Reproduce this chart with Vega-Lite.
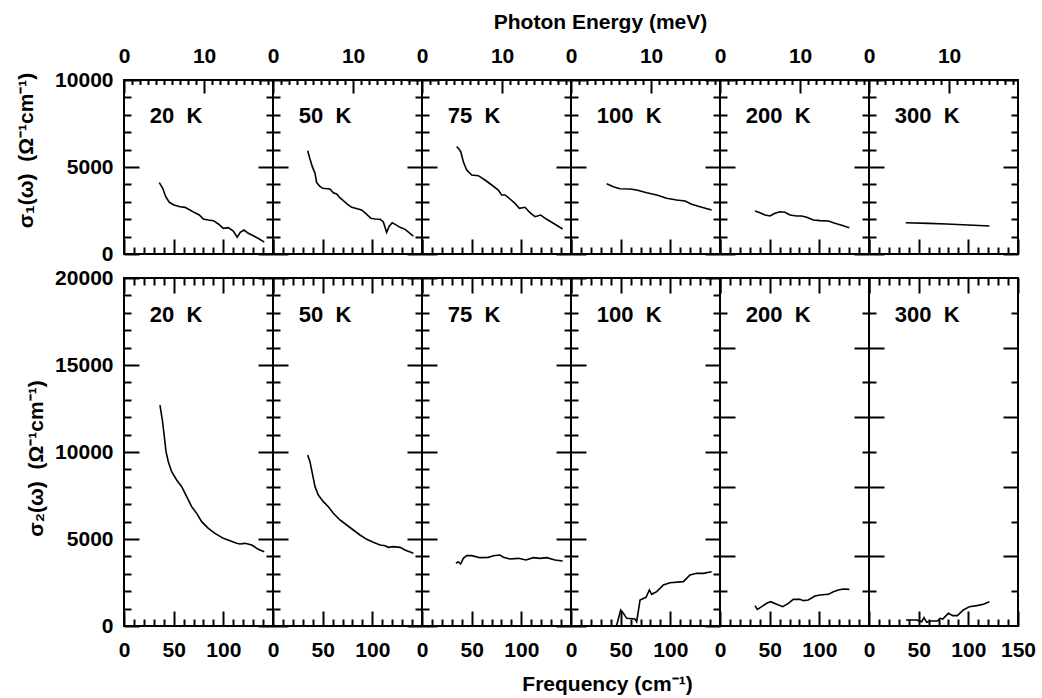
{
"$schema":"https://vega.github.io/schema/vega-lite/v6.json",
"padding":{"left":14,"top":10,"right":5,"bottom":5},
"background":"white",
"config":{"view":{"stroke":"black","strokeWidth":2},
 "font":"Liberation Sans",
 "axis":{"domain":false,"grid":false,"tickColor":"black","tickWidth":2,"labelFont":"Liberation Sans","labelFontWeight":"bold","labelFontSize":21,"labelColor":"black","titleFont":"Liberation Sans","titleFontSize":21,"titleFontWeight":"bold","titleColor":"black","labelFlush":false,"labelOverlap":false,"labelBound":false}},
"datasets":{
"d1":[
{"t":20,"f":35.5,"v":4098},{"t":20,"f":39,"v":3776},{"t":20,"f":42,"v":3293},{"t":20,"f":45.6,"v":2971},{"t":20,"f":50.3,"v":2816},{"t":20,"f":56.4,"v":2720},{"t":20,"f":61.4,"v":2682},{"t":20,"f":66.4,"v":2529},{"t":20,"f":70.5,"v":2395},{"t":20,"f":75.8,"v":2241},{"t":20,"f":79.8,"v":2011},{"t":20,"f":84.9,"v":1954},{"t":20,"f":89.9,"v":1916},{"t":20,"f":95,"v":1724},{"t":20,"f":100,"v":1475},{"t":20,"f":105,"v":1513},{"t":20,"f":110,"v":1322},{"t":20,"f":114,"v":960},{"t":20,"f":117,"v":1245},{"t":20,"f":120.8,"v":1379},{"t":20,"f":125.1,"v":1188},{"t":20,"f":130.2,"v":1053},{"t":20,"f":136.2,"v":862},{"t":20,"f":141.2,"v":680},
{"t":50,"f":34.9,"v":5937},{"t":50,"f":37.3,"v":5442},{"t":50,"f":39.6,"v":5019},{"t":50,"f":42.3,"v":4638},{"t":50,"f":44,"v":4098},{"t":50,"f":47,"v":3900},{"t":50,"f":50,"v":3776},{"t":50,"f":57.4,"v":3736},{"t":50,"f":60.7,"v":3523},{"t":50,"f":64.1,"v":3448},{"t":50,"f":67,"v":3250},{"t":50,"f":70.8,"v":3064},{"t":50,"f":75,"v":2850},{"t":50,"f":79.2,"v":2684},{"t":50,"f":83,"v":2626},{"t":50,"f":89.2,"v":2529},{"t":50,"f":93,"v":2350},{"t":50,"f":98.6,"v":2052},{"t":50,"f":103,"v":2011},{"t":50,"f":107.7,"v":1994},{"t":50,"f":111,"v":1856},{"t":50,"f":114.4,"v":1245},{"t":50,"f":117,"v":1600},{"t":50,"f":120,"v":1799},{"t":50,"f":123,"v":1700},{"t":50,"f":127.9,"v":1533},{"t":50,"f":133,"v":1418},{"t":50,"f":137,"v":1226},{"t":50,"f":141.3,"v":1034},
{"t":75,"f":34.9,"v":6167},{"t":75,"f":37,"v":6050},{"t":75,"f":39,"v":5879},{"t":75,"f":41.6,"v":5305},{"t":75,"f":45,"v":4828},{"t":75,"f":50,"v":4540},{"t":75,"f":56.7,"v":4500},{"t":75,"f":63.4,"v":4253},{"t":75,"f":70.2,"v":3966},{"t":75,"f":76.8,"v":3678},{"t":75,"f":80.2,"v":3391},{"t":75,"f":83.6,"v":3391},{"t":75,"f":88.6,"v":3161},{"t":75,"f":93.6,"v":2914},{"t":75,"f":98,"v":2626},{"t":75,"f":103.7,"v":2684},{"t":75,"f":108.7,"v":2374},{"t":75,"f":113.8,"v":2144},{"t":75,"f":119.5,"v":2241},{"t":75,"f":125.5,"v":1994},{"t":75,"f":132.2,"v":1764},{"t":75,"f":141.6,"v":1437},
{"t":100,"f":35.9,"v":4040},{"t":100,"f":42.6,"v":3868},{"t":100,"f":49.3,"v":3753},{"t":100,"f":59.4,"v":3736},{"t":100,"f":66.1,"v":3678},{"t":100,"f":76.2,"v":3523},{"t":100,"f":86.3,"v":3391},{"t":100,"f":96.3,"v":3201},{"t":100,"f":106.4,"v":3103},{"t":100,"f":114.8,"v":3046},{"t":100,"f":121.5,"v":2856},{"t":100,"f":129.9,"v":2720},{"t":100,"f":141.6,"v":2529},
{"t":200,"f":35.2,"v":2471},{"t":200,"f":40.3,"v":2374},{"t":200,"f":45.3,"v":2241},{"t":200,"f":50.3,"v":2184},{"t":200,"f":55.4,"v":2339},{"t":200,"f":60.4,"v":2431},{"t":200,"f":65.4,"v":2397},{"t":200,"f":70.5,"v":2241},{"t":200,"f":77.2,"v":2184},{"t":200,"f":82.2,"v":2184},{"t":200,"f":87.3,"v":2109},{"t":200,"f":94,"v":1954},{"t":200,"f":100.7,"v":1916},{"t":200,"f":109.1,"v":1897},{"t":200,"f":114.1,"v":1799},{"t":200,"f":119.1,"v":1705},{"t":200,"f":124.2,"v":1628},{"t":200,"f":127,"v":1560},{"t":200,"f":130.2,"v":1513},
{"t":300,"f":37,"v":1799},{"t":300,"f":60,"v":1760},{"t":300,"f":78.2,"v":1724},{"t":300,"f":100,"v":1670},{"t":300,"f":121.2,"v":1609}
],
"d2":[
{"t":20,"f":36.2,"v":12701},{"t":20,"f":38.6,"v":11839},{"t":20,"f":40.6,"v":10881},{"t":20,"f":42.3,"v":10019},{"t":20,"f":44.6,"v":9444},{"t":20,"f":48,"v":8870},{"t":20,"f":53,"v":8391},{"t":20,"f":58.1,"v":8008},{"t":20,"f":63.1,"v":7433},{"t":20,"f":68.1,"v":6858},{"t":20,"f":73.2,"v":6475},{"t":20,"f":78.2,"v":5996},{"t":20,"f":84.9,"v":5613},{"t":20,"f":91.6,"v":5326},{"t":20,"f":100,"v":5038},{"t":20,"f":106.7,"v":4904},{"t":20,"f":113.4,"v":4751},{"t":20,"f":116.8,"v":4713},{"t":20,"f":121.8,"v":4751},{"t":20,"f":128.6,"v":4655},{"t":20,"f":135.2,"v":4406},{"t":20,"f":141.2,"v":4272},
{"t":50,"f":34.9,"v":9828},{"t":50,"f":37.2,"v":9444},{"t":50,"f":39.6,"v":8774},{"t":50,"f":42.3,"v":8008},{"t":50,"f":45.6,"v":7529},{"t":50,"f":50.7,"v":7146},{"t":50,"f":55.7,"v":6858},{"t":50,"f":60.7,"v":6475},{"t":50,"f":67.4,"v":6092},{"t":50,"f":74.2,"v":5805},{"t":50,"f":80.8,"v":5517},{"t":50,"f":87.6,"v":5230},{"t":50,"f":94.3,"v":4981},{"t":50,"f":101,"v":4808},{"t":50,"f":107.7,"v":4655},{"t":50,"f":112.8,"v":4617},{"t":50,"f":116.1,"v":4521},{"t":50,"f":121.1,"v":4559},{"t":50,"f":127.9,"v":4521},{"t":50,"f":132.9,"v":4368},{"t":50,"f":141.3,"v":4176},
{"t":75,"f":34.2,"v":3602},{"t":75,"f":36.5,"v":3697},{"t":75,"f":38.9,"v":3563},{"t":75,"f":41.6,"v":3889},{"t":75,"f":45,"v":4042},{"t":75,"f":50,"v":4042},{"t":75,"f":58.4,"v":3927},{"t":75,"f":66.8,"v":3946},{"t":75,"f":71.8,"v":4042},{"t":75,"f":78.5,"v":4080},{"t":75,"f":81.9,"v":3946},{"t":75,"f":88.6,"v":3851},{"t":75,"f":97,"v":3889},{"t":75,"f":104.7,"v":3793},{"t":75,"f":112.1,"v":3927},{"t":75,"f":118.8,"v":3889},{"t":75,"f":125.5,"v":3927},{"t":75,"f":133.9,"v":3793},{"t":75,"f":141.6,"v":3736},
{"t":100,"f":36,"v":-100},{"t":100,"f":45.6,"v":-40},{"t":100,"f":50,"v":920},{"t":100,"f":52.7,"v":728},{"t":100,"f":56.1,"v":441},{"t":100,"f":64.4,"v":402},{"t":100,"f":66.1,"v":249},{"t":100,"f":69.5,"v":1494},{"t":100,"f":75.5,"v":1648},{"t":100,"f":78.9,"v":2069},{"t":100,"f":81.2,"v":1820},{"t":100,"f":86.3,"v":1973},{"t":100,"f":93,"v":2356},{"t":100,"f":99.7,"v":2490},{"t":100,"f":113.1,"v":2548},{"t":100,"f":119.8,"v":2931},{"t":100,"f":126.5,"v":3027},{"t":100,"f":133.2,"v":3027},{"t":100,"f":141.6,"v":3123},
{"t":200,"f":35.2,"v":1169},{"t":200,"f":37.6,"v":958},{"t":200,"f":42,"v":1111},{"t":200,"f":47,"v":1303},{"t":200,"f":51,"v":1399},{"t":200,"f":57.1,"v":1245},{"t":200,"f":63.1,"v":1111},{"t":200,"f":68.8,"v":1303},{"t":200,"f":73.8,"v":1533},{"t":200,"f":80.5,"v":1533},{"t":200,"f":83.9,"v":1456},{"t":200,"f":88.9,"v":1494},{"t":200,"f":95.6,"v":1724},{"t":200,"f":100.7,"v":1782},{"t":200,"f":109.1,"v":1820},{"t":200,"f":114.1,"v":1973},{"t":200,"f":119.1,"v":2069},{"t":200,"f":124.2,"v":2126},{"t":200,"f":130.2,"v":2107},
{"t":300,"f":37.2,"v":345},{"t":300,"f":48,"v":345},{"t":300,"f":53,"v":249},{"t":300,"f":55.4,"v":479},{"t":300,"f":58.1,"v":211},{"t":300,"f":61.4,"v":287},{"t":300,"f":68.8,"v":287},{"t":300,"f":71.5,"v":441},{"t":300,"f":74.2,"v":402},{"t":300,"f":79.9,"v":728},{"t":300,"f":84.3,"v":594},{"t":300,"f":88.9,"v":594},{"t":300,"f":95,"v":920},{"t":300,"f":101.1,"v":1111},{"t":300,"f":108.5,"v":1169},{"t":300,"f":115.2,"v":1245},{"t":300,"f":121.2,"v":1399}
]},
"columns":6,
"spacing":{"row":24,"column":0},
"bounds":"flush",
"align":"each",
"concat":[
{"width":149,"height":174,"data":{"name":"d1"},"transform":[{"filter":"datum.t == 20"}],
 "layer":[
  {"mark":{"type":"line","color":"black","strokeWidth":1.6,"clip":true},"encoding":{
   "x":{"field":"f","type":"quantitative","scale":{"domain":[0,150],"nice":false},"axis":{"orient":"bottom","values":[0,50,100,150],"tickSize":-15,"labels":false,"title":null}},
   "y":{"field":"v","type":"quantitative","scale":{"domain":[0,10000],"nice":false},"axis":{"orient":"left","values":[0,5000,10000],"tickSize":-15,"labelPadding":26,"format":"d","title":"σ₁(ω)\u00a0\u00a0(Ω⁻¹cm⁻¹)","titleX":-92,"titleY":70,"titleAngle":270,"titleAlign":"center","titleBaseline":"alphabetic"}}}},
  {"mark":{"type":"line","strokeOpacity":0},"encoding":{
   "x":{"field":"f","type":"quantitative","scale":{"domain":[0,150],"nice":false},"axis":{"orient":"bottom","values":[10,20,30,40,60,70,80,90,110,120,130,140],"tickSize":-7,"labels":false,"title":null}},
   "y":{"field":"v","type":"quantitative","scale":{"domain":[0,10000],"nice":false},"axis":{"orient":"left","values":[1000,2000,3000,4000,6000,7000,8000,9000],"tickSize":-7,"labels":false,"title":null}}}},
  {"mark":{"type":"line","strokeOpacity":0},"encoding":{
   "x":{"field":"f","type":"quantitative","scale":{"domain":[0,150],"nice":false},"axis":{"orient":"top","values":[0,80.655],"tickSize":-13,"labelPadding":27,"labelExpr":"datum.value < 1 ? '0' : '10'","title":null}},
   "y":{"field":"v","type":"quantitative","scale":{"domain":[0,10000],"nice":false},"axis":{"orient":"right","values":[0,5000,10000],"tickSize":-15,"labels":false,"title":null}}}},
  {"mark":{"type":"line","strokeOpacity":0},"encoding":{
   "x":{"field":"f","type":"quantitative","scale":{"domain":[0,150],"nice":false},"axis":{"orient":"top","values":[8.0655,16.131,24.1965,32.262,40.3275,48.393,56.4585,64.524,72.5895,88.7205,96.786,104.8515,112.917,120.9825,129.048,137.1135,145.179],"tickSize":-4.5,"labels":false,"title":null}},
   "y":{"field":"v","type":"quantitative","scale":{"domain":[0,10000],"nice":false},"axis":{"orient":"right","values":[1000,2000,3000,4000,6000,7000,8000,9000],"tickSize":-7,"labels":false,"title":null}}}},
  {"data":{"values":[{"label":"20\u00a0\u00a0K"}]},"mark":{"type":"text","align":"left","baseline":"middle","fontSize":22,"font":"Liberation Sans","fontWeight":"bold","color":"black"},"encoding":{
   "x":{"datum":26,"type":"quantitative","scale":{"domain":[0,150],"nice":false},"axis":null},
   "y":{"datum":7950,"type":"quantitative","scale":{"domain":[0,10000],"nice":false},"axis":null},
   "text":{"field":"label"}}}
 ],"resolve":{"axis":{"x":"independent","y":"independent"}}},
{"width":149,"height":174,"data":{"name":"d1"},"transform":[{"filter":"datum.t == 50"}],
 "layer":[
  {"mark":{"type":"line","color":"black","strokeWidth":1.6,"clip":true},"encoding":{
   "x":{"field":"f","type":"quantitative","scale":{"domain":[0,150],"nice":false},"axis":{"orient":"bottom","values":[0,50,100,150],"tickSize":-15,"labels":false,"title":null}},
   "y":{"field":"v","type":"quantitative","scale":{"domain":[0,10000],"nice":false},"axis":{"orient":"left","values":[0,5000,10000],"tickSize":-15,"labels":false,"title":null}}}},
  {"mark":{"type":"line","strokeOpacity":0},"encoding":{
   "x":{"field":"f","type":"quantitative","scale":{"domain":[0,150],"nice":false},"axis":{"orient":"bottom","values":[10,20,30,40,60,70,80,90,110,120,130,140],"tickSize":-7,"labels":false,"title":null}},
   "y":{"field":"v","type":"quantitative","scale":{"domain":[0,10000],"nice":false},"axis":{"orient":"left","values":[1000,2000,3000,4000,6000,7000,8000,9000],"tickSize":-7,"labels":false,"title":null}}}},
  {"mark":{"type":"line","strokeOpacity":0},"encoding":{
   "x":{"field":"f","type":"quantitative","scale":{"domain":[0,150],"nice":false},"axis":{"orient":"top","values":[0,80.655],"tickSize":-13,"labelPadding":27,"labelExpr":"datum.value < 1 ? '0' : '10'","title":null}},
   "y":{"field":"v","type":"quantitative","scale":{"domain":[0,10000],"nice":false},"axis":{"orient":"right","values":[0,5000,10000],"tickSize":-15,"labels":false,"title":null}}}},
  {"mark":{"type":"line","strokeOpacity":0},"encoding":{
   "x":{"field":"f","type":"quantitative","scale":{"domain":[0,150],"nice":false},"axis":{"orient":"top","values":[8.0655,16.131,24.1965,32.262,40.3275,48.393,56.4585,64.524,72.5895,88.7205,96.786,104.8515,112.917,120.9825,129.048,137.1135,145.179],"tickSize":-4.5,"labels":false,"title":null}},
   "y":{"field":"v","type":"quantitative","scale":{"domain":[0,10000],"nice":false},"axis":{"orient":"right","values":[1000,2000,3000,4000,6000,7000,8000,9000],"tickSize":-7,"labels":false,"title":null}}}},
  {"data":{"values":[{"label":"50\u00a0\u00a0K"}]},"mark":{"type":"text","align":"left","baseline":"middle","fontSize":22,"font":"Liberation Sans","fontWeight":"bold","color":"black"},"encoding":{
   "x":{"datum":26,"type":"quantitative","scale":{"domain":[0,150],"nice":false},"axis":null},
   "y":{"datum":7950,"type":"quantitative","scale":{"domain":[0,10000],"nice":false},"axis":null},
   "text":{"field":"label"}}}
 ],"resolve":{"axis":{"x":"independent","y":"independent"}}},
{"width":149,"height":174,"data":{"name":"d1"},"transform":[{"filter":"datum.t == 75"}],
 "layer":[
  {"mark":{"type":"line","color":"black","strokeWidth":1.6,"clip":true},"encoding":{
   "x":{"field":"f","type":"quantitative","scale":{"domain":[0,150],"nice":false},"axis":{"orient":"bottom","values":[0,50,100,150],"tickSize":-15,"labels":false,"title":null}},
   "y":{"field":"v","type":"quantitative","scale":{"domain":[0,10000],"nice":false},"axis":{"orient":"left","values":[0,5000,10000],"tickSize":-15,"labels":false,"title":null}}}},
  {"mark":{"type":"line","strokeOpacity":0},"encoding":{
   "x":{"field":"f","type":"quantitative","scale":{"domain":[0,150],"nice":false},"axis":{"orient":"bottom","values":[10,20,30,40,60,70,80,90,110,120,130,140],"tickSize":-7,"labels":false,"title":null}},
   "y":{"field":"v","type":"quantitative","scale":{"domain":[0,10000],"nice":false},"axis":{"orient":"left","values":[1000,2000,3000,4000,6000,7000,8000,9000],"tickSize":-7,"labels":false,"title":null}}}},
  {"mark":{"type":"line","strokeOpacity":0},"encoding":{
   "x":{"field":"f","type":"quantitative","scale":{"domain":[0,150],"nice":false},"axis":{"orient":"top","values":[0,80.655],"tickSize":-13,"labelPadding":27,"labelExpr":"datum.value < 1 ? '0' : '10'","title":null}},
   "y":{"field":"v","type":"quantitative","scale":{"domain":[0,10000],"nice":false},"axis":{"orient":"right","values":[0,5000,10000],"tickSize":-15,"labels":false,"title":null}}}},
  {"mark":{"type":"line","strokeOpacity":0},"encoding":{
   "x":{"field":"f","type":"quantitative","scale":{"domain":[0,150],"nice":false},"axis":{"orient":"top","values":[8.0655,16.131,24.1965,32.262,40.3275,48.393,56.4585,64.524,72.5895,88.7205,96.786,104.8515,112.917,120.9825,129.048,137.1135,145.179],"tickSize":-4.5,"labels":false,"title":null}},
   "y":{"field":"v","type":"quantitative","scale":{"domain":[0,10000],"nice":false},"axis":{"orient":"right","values":[1000,2000,3000,4000,6000,7000,8000,9000],"tickSize":-7,"labels":false,"title":null}}}},
  {"data":{"values":[{"label":"75\u00a0\u00a0K"}]},"mark":{"type":"text","align":"left","baseline":"middle","fontSize":22,"font":"Liberation Sans","fontWeight":"bold","color":"black"},"encoding":{
   "x":{"datum":26,"type":"quantitative","scale":{"domain":[0,150],"nice":false},"axis":null},
   "y":{"datum":7950,"type":"quantitative","scale":{"domain":[0,10000],"nice":false},"axis":null},
   "text":{"field":"label"}}}
 ],"resolve":{"axis":{"x":"independent","y":"independent"}}},
{"width":149,"height":174,"data":{"name":"d1"},"transform":[{"filter":"datum.t == 100"}],
 "layer":[
  {"mark":{"type":"line","color":"black","strokeWidth":1.6,"clip":true},"encoding":{
   "x":{"field":"f","type":"quantitative","scale":{"domain":[0,150],"nice":false},"axis":{"orient":"bottom","values":[0,50,100,150],"tickSize":-15,"labels":false,"title":null}},
   "y":{"field":"v","type":"quantitative","scale":{"domain":[0,10000],"nice":false},"axis":{"orient":"left","values":[0,5000,10000],"tickSize":-15,"labels":false,"title":null}}}},
  {"mark":{"type":"line","strokeOpacity":0},"encoding":{
   "x":{"field":"f","type":"quantitative","scale":{"domain":[0,150],"nice":false},"axis":{"orient":"bottom","values":[10,20,30,40,60,70,80,90,110,120,130,140],"tickSize":-7,"labels":false,"title":null}},
   "y":{"field":"v","type":"quantitative","scale":{"domain":[0,10000],"nice":false},"axis":{"orient":"left","values":[1000,2000,3000,4000,6000,7000,8000,9000],"tickSize":-7,"labels":false,"title":null}}}},
  {"mark":{"type":"line","strokeOpacity":0},"encoding":{
   "x":{"field":"f","type":"quantitative","scale":{"domain":[0,150],"nice":false},"axis":{"orient":"top","values":[0,80.655],"tickSize":-13,"labelPadding":27,"labelExpr":"datum.value < 1 ? '0' : '10'","title":"Photon Energy (meV)","titleX":29,"titleY":-52,"titleAlign":"center","titleBaseline":"alphabetic","titleAngle":0}},
   "y":{"field":"v","type":"quantitative","scale":{"domain":[0,10000],"nice":false},"axis":{"orient":"right","values":[0,5000,10000],"tickSize":-15,"labels":false,"title":null}}}},
  {"mark":{"type":"line","strokeOpacity":0},"encoding":{
   "x":{"field":"f","type":"quantitative","scale":{"domain":[0,150],"nice":false},"axis":{"orient":"top","values":[8.0655,16.131,24.1965,32.262,40.3275,48.393,56.4585,64.524,72.5895,88.7205,96.786,104.8515,112.917,120.9825,129.048,137.1135,145.179],"tickSize":-4.5,"labels":false,"title":null}},
   "y":{"field":"v","type":"quantitative","scale":{"domain":[0,10000],"nice":false},"axis":{"orient":"right","values":[1000,2000,3000,4000,6000,7000,8000,9000],"tickSize":-7,"labels":false,"title":null}}}},
  {"data":{"values":[{"label":"100\u00a0\u00a0K"}]},"mark":{"type":"text","align":"left","baseline":"middle","fontSize":22,"font":"Liberation Sans","fontWeight":"bold","color":"black"},"encoding":{
   "x":{"datum":26,"type":"quantitative","scale":{"domain":[0,150],"nice":false},"axis":null},
   "y":{"datum":7950,"type":"quantitative","scale":{"domain":[0,10000],"nice":false},"axis":null},
   "text":{"field":"label"}}}
 ],"resolve":{"axis":{"x":"independent","y":"independent"}}},
{"width":149,"height":174,"data":{"name":"d1"},"transform":[{"filter":"datum.t == 200"}],
 "layer":[
  {"mark":{"type":"line","color":"black","strokeWidth":1.6,"clip":true},"encoding":{
   "x":{"field":"f","type":"quantitative","scale":{"domain":[0,150],"nice":false},"axis":{"orient":"bottom","values":[0,50,100,150],"tickSize":-15,"labels":false,"title":null}},
   "y":{"field":"v","type":"quantitative","scale":{"domain":[0,10000],"nice":false},"axis":{"orient":"left","values":[0,5000,10000],"tickSize":-15,"labels":false,"title":null}}}},
  {"mark":{"type":"line","strokeOpacity":0},"encoding":{
   "x":{"field":"f","type":"quantitative","scale":{"domain":[0,150],"nice":false},"axis":{"orient":"bottom","values":[10,20,30,40,60,70,80,90,110,120,130,140],"tickSize":-7,"labels":false,"title":null}},
   "y":{"field":"v","type":"quantitative","scale":{"domain":[0,10000],"nice":false},"axis":{"orient":"left","values":[1000,2000,3000,4000,6000,7000,8000,9000],"tickSize":-7,"labels":false,"title":null}}}},
  {"mark":{"type":"line","strokeOpacity":0},"encoding":{
   "x":{"field":"f","type":"quantitative","scale":{"domain":[0,150],"nice":false},"axis":{"orient":"top","values":[0,80.655],"tickSize":-13,"labelPadding":27,"labelExpr":"datum.value < 1 ? '0' : '10'","title":null}},
   "y":{"field":"v","type":"quantitative","scale":{"domain":[0,10000],"nice":false},"axis":{"orient":"right","values":[0,5000,10000],"tickSize":-15,"labels":false,"title":null}}}},
  {"mark":{"type":"line","strokeOpacity":0},"encoding":{
   "x":{"field":"f","type":"quantitative","scale":{"domain":[0,150],"nice":false},"axis":{"orient":"top","values":[8.0655,16.131,24.1965,32.262,40.3275,48.393,56.4585,64.524,72.5895,88.7205,96.786,104.8515,112.917,120.9825,129.048,137.1135,145.179],"tickSize":-4.5,"labels":false,"title":null}},
   "y":{"field":"v","type":"quantitative","scale":{"domain":[0,10000],"nice":false},"axis":{"orient":"right","values":[1000,2000,3000,4000,6000,7000,8000,9000],"tickSize":-7,"labels":false,"title":null}}}},
  {"data":{"values":[{"label":"200\u00a0\u00a0K"}]},"mark":{"type":"text","align":"left","baseline":"middle","fontSize":22,"font":"Liberation Sans","fontWeight":"bold","color":"black"},"encoding":{
   "x":{"datum":26,"type":"quantitative","scale":{"domain":[0,150],"nice":false},"axis":null},
   "y":{"datum":7950,"type":"quantitative","scale":{"domain":[0,10000],"nice":false},"axis":null},
   "text":{"field":"label"}}}
 ],"resolve":{"axis":{"x":"independent","y":"independent"}}},
{"width":149,"height":174,"data":{"name":"d1"},"transform":[{"filter":"datum.t == 300"}],
 "layer":[
  {"mark":{"type":"line","color":"black","strokeWidth":1.6,"clip":true},"encoding":{
   "x":{"field":"f","type":"quantitative","scale":{"domain":[0,150],"nice":false},"axis":{"orient":"bottom","values":[0,50,100,150],"tickSize":-15,"labels":false,"title":null}},
   "y":{"field":"v","type":"quantitative","scale":{"domain":[0,10000],"nice":false},"axis":{"orient":"left","values":[0,5000,10000],"tickSize":-15,"labels":false,"title":null}}}},
  {"mark":{"type":"line","strokeOpacity":0},"encoding":{
   "x":{"field":"f","type":"quantitative","scale":{"domain":[0,150],"nice":false},"axis":{"orient":"bottom","values":[10,20,30,40,60,70,80,90,110,120,130,140],"tickSize":-7,"labels":false,"title":null}},
   "y":{"field":"v","type":"quantitative","scale":{"domain":[0,10000],"nice":false},"axis":{"orient":"left","values":[1000,2000,3000,4000,6000,7000,8000,9000],"tickSize":-7,"labels":false,"title":null}}}},
  {"mark":{"type":"line","strokeOpacity":0},"encoding":{
   "x":{"field":"f","type":"quantitative","scale":{"domain":[0,150],"nice":false},"axis":{"orient":"top","values":[0,80.655],"tickSize":-13,"labelPadding":27,"labelExpr":"datum.value < 1 ? '0' : '10'","title":null}},
   "y":{"field":"v","type":"quantitative","scale":{"domain":[0,10000],"nice":false},"axis":{"orient":"right","values":[0,5000,10000],"tickSize":-15,"labels":false,"title":null}}}},
  {"mark":{"type":"line","strokeOpacity":0},"encoding":{
   "x":{"field":"f","type":"quantitative","scale":{"domain":[0,150],"nice":false},"axis":{"orient":"top","values":[8.0655,16.131,24.1965,32.262,40.3275,48.393,56.4585,64.524,72.5895,88.7205,96.786,104.8515,112.917,120.9825,129.048,137.1135,145.179],"tickSize":-4.5,"labels":false,"title":null}},
   "y":{"field":"v","type":"quantitative","scale":{"domain":[0,10000],"nice":false},"axis":{"orient":"right","values":[1000,2000,3000,4000,6000,7000,8000,9000],"tickSize":-7,"labels":false,"title":null}}}},
  {"data":{"values":[{"label":"300\u00a0\u00a0K"}]},"mark":{"type":"text","align":"left","baseline":"middle","fontSize":22,"font":"Liberation Sans","fontWeight":"bold","color":"black"},"encoding":{
   "x":{"datum":26,"type":"quantitative","scale":{"domain":[0,150],"nice":false},"axis":null},
   "y":{"datum":7950,"type":"quantitative","scale":{"domain":[0,10000],"nice":false},"axis":null},
   "text":{"field":"label"}}}
 ],"resolve":{"axis":{"x":"independent","y":"independent"}}},
{"width":149,"height":348,"data":{"name":"d2"},"transform":[{"filter":"datum.t == 20"}],
 "layer":[
  {"mark":{"type":"line","color":"black","strokeWidth":1.6,"clip":true},"encoding":{
   "x":{"field":"f","type":"quantitative","scale":{"domain":[0,150],"nice":false},"axis":{"orient":"bottom","values":[0,50,100],"tickSize":-15,"labelPadding":28,"title":null}},
   "y":{"field":"v","type":"quantitative","scale":{"domain":[0,20000],"nice":false},"axis":{"orient":"left","values":[0,5000,10000,15000,20000],"tickSize":-15,"labelPadding":26,"format":"d","title":"σ₂(ω)\u00a0\u00a0(Ω⁻¹cm⁻¹)","titleX":-82,"titleY":180,"titleAngle":270,"titleAlign":"center","titleBaseline":"alphabetic"}}}},
  {"mark":{"type":"line","strokeOpacity":0},"encoding":{
   "x":{"field":"f","type":"quantitative","scale":{"domain":[0,150],"nice":false},"axis":{"orient":"bottom","values":[10,20,30,40,60,70,80,90,110,120,130,140],"tickSize":-7,"labels":false,"title":null}},
   "y":{"field":"v","type":"quantitative","scale":{"domain":[0,20000],"nice":false},"axis":{"orient":"left","values":[1000,2000,3000,4000,6000,7000,8000,9000,11000,12000,13000,14000,16000,17000,18000,19000],"tickSize":-7,"labels":false,"title":null}}}},
  {"mark":{"type":"line","strokeOpacity":0},"encoding":{
   "x":{"field":"f","type":"quantitative","scale":{"domain":[0,150],"nice":false},"axis":{"orient":"top","values":[0,50,100,150],"tickSize":-15,"labels":false,"title":null}},
   "y":{"field":"v","type":"quantitative","scale":{"domain":[0,20000],"nice":false},"axis":{"orient":"right","values":[0,5000,10000,15000,20000],"tickSize":-15,"labels":false,"title":null}}}},
  {"mark":{"type":"line","strokeOpacity":0},"encoding":{
   "x":{"field":"f","type":"quantitative","scale":{"domain":[0,150],"nice":false},"axis":{"orient":"top","values":[10,20,30,40,60,70,80,90,110,120,130,140],"tickSize":-7,"labels":false,"title":null}},
   "y":{"field":"v","type":"quantitative","scale":{"domain":[0,20000],"nice":false},"axis":{"orient":"right","values":[1000,2000,3000,4000,6000,7000,8000,9000,11000,12000,13000,14000,16000,17000,18000,19000],"tickSize":-7,"labels":false,"title":null}}}},
  {"data":{"values":[{"label":"20\u00a0\u00a0K"}]},"mark":{"type":"text","align":"left","baseline":"middle","fontSize":22,"font":"Liberation Sans","fontWeight":"bold","color":"black"},"encoding":{
   "x":{"datum":26,"type":"quantitative","scale":{"domain":[0,150],"nice":false},"axis":null},
   "y":{"datum":17900,"type":"quantitative","scale":{"domain":[0,20000],"nice":false},"axis":null},
   "text":{"field":"label"}}}
 ],"resolve":{"axis":{"x":"independent","y":"independent"}}},
{"width":149,"height":348,"data":{"name":"d2"},"transform":[{"filter":"datum.t == 50"}],
 "layer":[
  {"mark":{"type":"line","color":"black","strokeWidth":1.6,"clip":true},"encoding":{
   "x":{"field":"f","type":"quantitative","scale":{"domain":[0,150],"nice":false},"axis":{"orient":"bottom","values":[0,50,100],"tickSize":-15,"labelPadding":28,"title":null}},
   "y":{"field":"v","type":"quantitative","scale":{"domain":[0,20000],"nice":false},"axis":{"orient":"left","values":[0,5000,10000,15000,20000],"tickSize":-15,"labels":false,"title":null}}}},
  {"mark":{"type":"line","strokeOpacity":0},"encoding":{
   "x":{"field":"f","type":"quantitative","scale":{"domain":[0,150],"nice":false},"axis":{"orient":"bottom","values":[10,20,30,40,60,70,80,90,110,120,130,140],"tickSize":-7,"labels":false,"title":null}},
   "y":{"field":"v","type":"quantitative","scale":{"domain":[0,20000],"nice":false},"axis":{"orient":"left","values":[1000,2000,3000,4000,6000,7000,8000,9000,11000,12000,13000,14000,16000,17000,18000,19000],"tickSize":-7,"labels":false,"title":null}}}},
  {"mark":{"type":"line","strokeOpacity":0},"encoding":{
   "x":{"field":"f","type":"quantitative","scale":{"domain":[0,150],"nice":false},"axis":{"orient":"top","values":[0,50,100,150],"tickSize":-15,"labels":false,"title":null}},
   "y":{"field":"v","type":"quantitative","scale":{"domain":[0,20000],"nice":false},"axis":{"orient":"right","values":[0,5000,10000,15000,20000],"tickSize":-15,"labels":false,"title":null}}}},
  {"mark":{"type":"line","strokeOpacity":0},"encoding":{
   "x":{"field":"f","type":"quantitative","scale":{"domain":[0,150],"nice":false},"axis":{"orient":"top","values":[10,20,30,40,60,70,80,90,110,120,130,140],"tickSize":-7,"labels":false,"title":null}},
   "y":{"field":"v","type":"quantitative","scale":{"domain":[0,20000],"nice":false},"axis":{"orient":"right","values":[1000,2000,3000,4000,6000,7000,8000,9000,11000,12000,13000,14000,16000,17000,18000,19000],"tickSize":-7,"labels":false,"title":null}}}},
  {"data":{"values":[{"label":"50\u00a0\u00a0K"}]},"mark":{"type":"text","align":"left","baseline":"middle","fontSize":22,"font":"Liberation Sans","fontWeight":"bold","color":"black"},"encoding":{
   "x":{"datum":26,"type":"quantitative","scale":{"domain":[0,150],"nice":false},"axis":null},
   "y":{"datum":17900,"type":"quantitative","scale":{"domain":[0,20000],"nice":false},"axis":null},
   "text":{"field":"label"}}}
 ],"resolve":{"axis":{"x":"independent","y":"independent"}}},
{"width":149,"height":348,"data":{"name":"d2"},"transform":[{"filter":"datum.t == 75"}],
 "layer":[
  {"mark":{"type":"line","color":"black","strokeWidth":1.6,"clip":true},"encoding":{
   "x":{"field":"f","type":"quantitative","scale":{"domain":[0,150],"nice":false},"axis":{"orient":"bottom","values":[0,50,100],"tickSize":-15,"labelPadding":28,"title":null}},
   "y":{"field":"v","type":"quantitative","scale":{"domain":[0,20000],"nice":false},"axis":{"orient":"left","values":[0,5000,10000,15000,20000],"tickSize":-15,"labels":false,"title":null}}}},
  {"mark":{"type":"line","strokeOpacity":0},"encoding":{
   "x":{"field":"f","type":"quantitative","scale":{"domain":[0,150],"nice":false},"axis":{"orient":"bottom","values":[10,20,30,40,60,70,80,90,110,120,130,140],"tickSize":-7,"labels":false,"title":null}},
   "y":{"field":"v","type":"quantitative","scale":{"domain":[0,20000],"nice":false},"axis":{"orient":"left","values":[1000,2000,3000,4000,6000,7000,8000,9000,11000,12000,13000,14000,16000,17000,18000,19000],"tickSize":-7,"labels":false,"title":null}}}},
  {"mark":{"type":"line","strokeOpacity":0},"encoding":{
   "x":{"field":"f","type":"quantitative","scale":{"domain":[0,150],"nice":false},"axis":{"orient":"top","values":[0,50,100,150],"tickSize":-15,"labels":false,"title":null}},
   "y":{"field":"v","type":"quantitative","scale":{"domain":[0,20000],"nice":false},"axis":{"orient":"right","values":[0,5000,10000,15000,20000],"tickSize":-15,"labels":false,"title":null}}}},
  {"mark":{"type":"line","strokeOpacity":0},"encoding":{
   "x":{"field":"f","type":"quantitative","scale":{"domain":[0,150],"nice":false},"axis":{"orient":"top","values":[10,20,30,40,60,70,80,90,110,120,130,140],"tickSize":-7,"labels":false,"title":null}},
   "y":{"field":"v","type":"quantitative","scale":{"domain":[0,20000],"nice":false},"axis":{"orient":"right","values":[1000,2000,3000,4000,6000,7000,8000,9000,11000,12000,13000,14000,16000,17000,18000,19000],"tickSize":-7,"labels":false,"title":null}}}},
  {"data":{"values":[{"label":"75\u00a0\u00a0K"}]},"mark":{"type":"text","align":"left","baseline":"middle","fontSize":22,"font":"Liberation Sans","fontWeight":"bold","color":"black"},"encoding":{
   "x":{"datum":26,"type":"quantitative","scale":{"domain":[0,150],"nice":false},"axis":null},
   "y":{"datum":17900,"type":"quantitative","scale":{"domain":[0,20000],"nice":false},"axis":null},
   "text":{"field":"label"}}}
 ],"resolve":{"axis":{"x":"independent","y":"independent"}}},
{"width":149,"height":348,"data":{"name":"d2"},"transform":[{"filter":"datum.t == 100"}],
 "layer":[
  {"mark":{"type":"line","color":"black","strokeWidth":1.6,"clip":true},"encoding":{
   "x":{"field":"f","type":"quantitative","scale":{"domain":[0,150],"nice":false},"axis":{"orient":"bottom","values":[0,50,100],"tickSize":-15,"labelPadding":28,"title":"Frequency (cm⁻¹)","titleX":36,"titleY":64,"titleAlign":"center","titleBaseline":"alphabetic","titleAngle":0}},
   "y":{"field":"v","type":"quantitative","scale":{"domain":[0,20000],"nice":false},"axis":{"orient":"left","values":[0,5000,10000,15000,20000],"tickSize":-15,"labels":false,"title":null}}}},
  {"mark":{"type":"line","strokeOpacity":0},"encoding":{
   "x":{"field":"f","type":"quantitative","scale":{"domain":[0,150],"nice":false},"axis":{"orient":"bottom","values":[10,20,30,40,60,70,80,90,110,120,130,140],"tickSize":-7,"labels":false,"title":null}},
   "y":{"field":"v","type":"quantitative","scale":{"domain":[0,20000],"nice":false},"axis":{"orient":"left","values":[1000,2000,3000,4000,6000,7000,8000,9000,11000,12000,13000,14000,16000,17000,18000,19000],"tickSize":-7,"labels":false,"title":null}}}},
  {"mark":{"type":"line","strokeOpacity":0},"encoding":{
   "x":{"field":"f","type":"quantitative","scale":{"domain":[0,150],"nice":false},"axis":{"orient":"top","values":[0,50,100,150],"tickSize":-15,"labels":false,"title":null}},
   "y":{"field":"v","type":"quantitative","scale":{"domain":[0,20000],"nice":false},"axis":{"orient":"right","values":[0,5000,10000,15000,20000],"tickSize":-15,"labels":false,"title":null}}}},
  {"mark":{"type":"line","strokeOpacity":0},"encoding":{
   "x":{"field":"f","type":"quantitative","scale":{"domain":[0,150],"nice":false},"axis":{"orient":"top","values":[10,20,30,40,60,70,80,90,110,120,130,140],"tickSize":-7,"labels":false,"title":null}},
   "y":{"field":"v","type":"quantitative","scale":{"domain":[0,20000],"nice":false},"axis":{"orient":"right","values":[1000,2000,3000,4000,6000,7000,8000,9000,11000,12000,13000,14000,16000,17000,18000,19000],"tickSize":-7,"labels":false,"title":null}}}},
  {"data":{"values":[{"label":"100\u00a0\u00a0K"}]},"mark":{"type":"text","align":"left","baseline":"middle","fontSize":22,"font":"Liberation Sans","fontWeight":"bold","color":"black"},"encoding":{
   "x":{"datum":26,"type":"quantitative","scale":{"domain":[0,150],"nice":false},"axis":null},
   "y":{"datum":17900,"type":"quantitative","scale":{"domain":[0,20000],"nice":false},"axis":null},
   "text":{"field":"label"}}}
 ],"resolve":{"axis":{"x":"independent","y":"independent"}}},
{"width":149,"height":348,"data":{"name":"d2"},"transform":[{"filter":"datum.t == 200"}],
 "layer":[
  {"mark":{"type":"line","color":"black","strokeWidth":1.6,"clip":true},"encoding":{
   "x":{"field":"f","type":"quantitative","scale":{"domain":[0,150],"nice":false},"axis":{"orient":"bottom","values":[0,50,100],"tickSize":-15,"labelPadding":28,"title":null}},
   "y":{"field":"v","type":"quantitative","scale":{"domain":[0,20000],"nice":false},"axis":{"orient":"left","values":[4000,8000,12000,16000],"tickSize":-15,"labels":false,"title":null}}}},
  {"mark":{"type":"line","strokeOpacity":0},"encoding":{
   "x":{"field":"f","type":"quantitative","scale":{"domain":[0,150],"nice":false},"axis":{"orient":"bottom","values":[10,20,30,40,60,70,80,90,110,120,130,140],"tickSize":-7,"labels":false,"title":null}},
   "y":{"field":"v","type":"quantitative","scale":{"domain":[0,20000],"nice":false},"axis":{"orient":"left","values":[2000,6000,10000,14000,18000],"tickSize":-7,"labels":false,"title":null}}}},
  {"mark":{"type":"line","strokeOpacity":0},"encoding":{
   "x":{"field":"f","type":"quantitative","scale":{"domain":[0,150],"nice":false},"axis":{"orient":"top","values":[0,50,100,150],"tickSize":-15,"labels":false,"title":null}},
   "y":{"field":"v","type":"quantitative","scale":{"domain":[0,20000],"nice":false},"axis":{"orient":"right","values":[4000,8000,12000,16000],"tickSize":-15,"labels":false,"title":null}}}},
  {"mark":{"type":"line","strokeOpacity":0},"encoding":{
   "x":{"field":"f","type":"quantitative","scale":{"domain":[0,150],"nice":false},"axis":{"orient":"top","values":[10,20,30,40,60,70,80,90,110,120,130,140],"tickSize":-7,"labels":false,"title":null}},
   "y":{"field":"v","type":"quantitative","scale":{"domain":[0,20000],"nice":false},"axis":{"orient":"right","values":[2000,6000,10000,14000,18000],"tickSize":-7,"labels":false,"title":null}}}},
  {"data":{"values":[{"label":"200\u00a0\u00a0K"}]},"mark":{"type":"text","align":"left","baseline":"middle","fontSize":22,"font":"Liberation Sans","fontWeight":"bold","color":"black"},"encoding":{
   "x":{"datum":26,"type":"quantitative","scale":{"domain":[0,150],"nice":false},"axis":null},
   "y":{"datum":17900,"type":"quantitative","scale":{"domain":[0,20000],"nice":false},"axis":null},
   "text":{"field":"label"}}}
 ],"resolve":{"axis":{"x":"independent","y":"independent"}}},
{"width":149,"height":348,"data":{"name":"d2"},"transform":[{"filter":"datum.t == 300"}],
 "layer":[
  {"mark":{"type":"line","color":"black","strokeWidth":1.6,"clip":true},"encoding":{
   "x":{"field":"f","type":"quantitative","scale":{"domain":[0,150],"nice":false},"axis":{"orient":"bottom","values":[0,50,100,150],"tickSize":-15,"labelPadding":28,"title":null}},
   "y":{"field":"v","type":"quantitative","scale":{"domain":[0,20000],"nice":false},"axis":{"orient":"left","values":[4000,8000,12000,16000],"tickSize":-15,"labels":false,"title":null}}}},
  {"mark":{"type":"line","strokeOpacity":0},"encoding":{
   "x":{"field":"f","type":"quantitative","scale":{"domain":[0,150],"nice":false},"axis":{"orient":"bottom","values":[10,20,30,40,60,70,80,90,110,120,130,140],"tickSize":-7,"labels":false,"title":null}},
   "y":{"field":"v","type":"quantitative","scale":{"domain":[0,20000],"nice":false},"axis":{"orient":"left","values":[2000,6000,10000,14000,18000],"tickSize":-7,"labels":false,"title":null}}}},
  {"mark":{"type":"line","strokeOpacity":0},"encoding":{
   "x":{"field":"f","type":"quantitative","scale":{"domain":[0,150],"nice":false},"axis":{"orient":"top","values":[0,50,100,150],"tickSize":-15,"labels":false,"title":null}},
   "y":{"field":"v","type":"quantitative","scale":{"domain":[0,20000],"nice":false},"axis":{"orient":"right","values":[4000,8000,12000,16000],"tickSize":-15,"labels":false,"title":null}}}},
  {"mark":{"type":"line","strokeOpacity":0},"encoding":{
   "x":{"field":"f","type":"quantitative","scale":{"domain":[0,150],"nice":false},"axis":{"orient":"top","values":[10,20,30,40,60,70,80,90,110,120,130,140],"tickSize":-7,"labels":false,"title":null}},
   "y":{"field":"v","type":"quantitative","scale":{"domain":[0,20000],"nice":false},"axis":{"orient":"right","values":[2000,6000,10000,14000,18000],"tickSize":-7,"labels":false,"title":null}}}},
  {"data":{"values":[{"label":"300\u00a0\u00a0K"}]},"mark":{"type":"text","align":"left","baseline":"middle","fontSize":22,"font":"Liberation Sans","fontWeight":"bold","color":"black"},"encoding":{
   "x":{"datum":26,"type":"quantitative","scale":{"domain":[0,150],"nice":false},"axis":null},
   "y":{"datum":17900,"type":"quantitative","scale":{"domain":[0,20000],"nice":false},"axis":null},
   "text":{"field":"label"}}}
 ],"resolve":{"axis":{"x":"independent","y":"independent"}}}
]
}
